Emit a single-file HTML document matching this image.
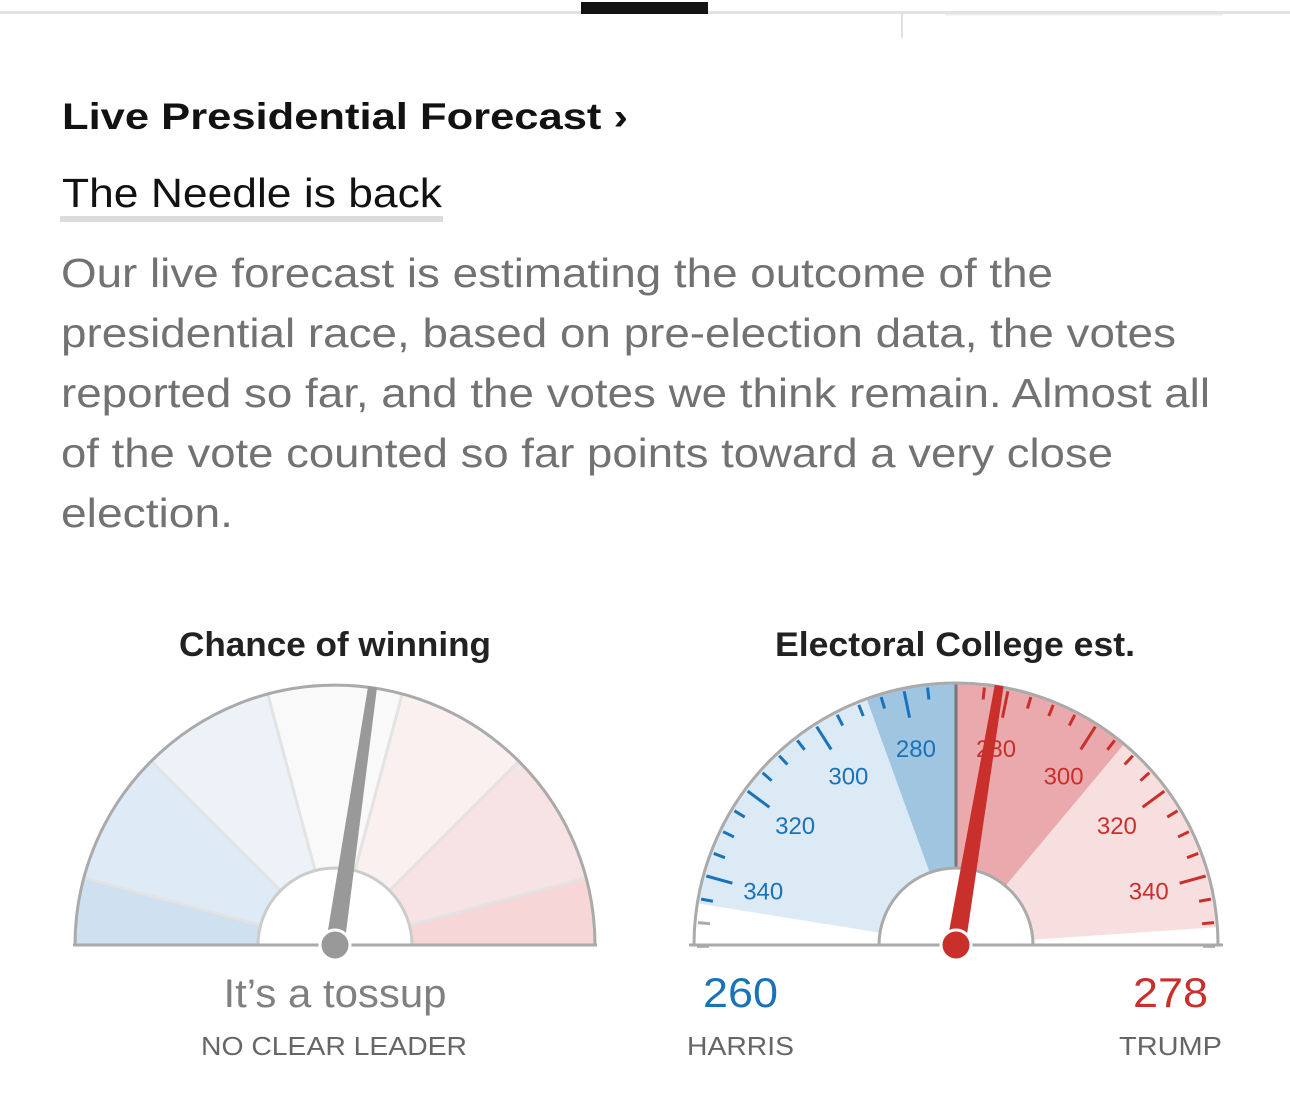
<!DOCTYPE html>
<html><head><meta charset="utf-8"><style>
html,body{margin:0;padding:0;background:#fff;width:1290px;height:1094px;overflow:hidden}
svg{display:block;font-family:"Liberation Sans",Arial,sans-serif}
</style></head><body>
<svg id="root" width="1290" height="1094" viewBox="0 0 1290 1094">
  <rect x="0" y="11" width="1290" height="3" fill="#e2e2e2"/>
  <rect x="581" y="2" width="127" height="12" fill="#121212"/>
  <rect x="901" y="14" width="2" height="24" fill="#e0e0e0"/>
  <rect x="945" y="14" width="278" height="1.5" fill="#eee"/>

  <text x="62" y="129" font-size="37" font-weight="bold" fill="#121212" textLength="566" lengthAdjust="spacingAndGlyphs">Live Presidential Forecast ›</text>
  <text x="62" y="207" font-size="41" fill="#121212" textLength="380" lengthAdjust="spacingAndGlyphs">The Needle is back</text>
  <rect x="60" y="216" width="383" height="6" fill="#dcdcdc"/>
  <g fill="#727272" font-size="41">
    <text x="61" y="287" textLength="992" lengthAdjust="spacingAndGlyphs">Our live forecast is estimating the outcome of the</text>
    <text x="61" y="347" textLength="1115" lengthAdjust="spacingAndGlyphs">presidential race, based on pre-election data, the votes</text>
    <text x="61" y="407" textLength="1149" lengthAdjust="spacingAndGlyphs">reported so far, and the votes we think remain. Almost all</text>
    <text x="61" y="467" textLength="1052" lengthAdjust="spacingAndGlyphs">of the vote counted so far points toward a very close</text>
    <text x="61" y="527" textLength="172" lengthAdjust="spacingAndGlyphs">election.</text>
  </g>

  <text x="335" y="656" font-size="34" font-weight="bold" fill="#222" text-anchor="middle" textLength="312" lengthAdjust="spacingAndGlyphs">Chance of winning</text>
  <text x="955" y="656" font-size="34" font-weight="bold" fill="#222" text-anchor="middle" textLength="360" lengthAdjust="spacingAndGlyphs">Electoral College est.</text>

  <g id="g1"></g>
  <g id="g2"></g>

  <text x="335" y="1007" font-size="40" fill="#808080" text-anchor="middle" textLength="223" lengthAdjust="spacingAndGlyphs">It’s a tossup</text>
  <text x="334" y="1055" font-size="26" fill="#666" text-anchor="middle" textLength="266" lengthAdjust="spacingAndGlyphs">NO CLEAR LEADER</text>
  <text id="hv" x="703" y="1007" font-size="42" fill="#1a73b8" textLength="75" lengthAdjust="spacingAndGlyphs"></text>
  <text x="687" y="1055" font-size="26" fill="#666" textLength="107" lengthAdjust="spacingAndGlyphs">HARRIS</text>
  <text id="tv" x="1208" y="1007" font-size="42" fill="#c9302c" text-anchor="end" textLength="75" lengthAdjust="spacingAndGlyphs"></text>
  <text x="1222" y="1055" font-size="26" fill="#666" text-anchor="end" textLength="103" lengthAdjust="spacingAndGlyphs">TRUMP</text>
</svg>
<script>
// ---- data ----
const chanceTrump = 0.546;
const chanceBands = [0, 15, 45, 75, 105, 135, 165, 180];
const harrisEV = 260;
const trumpEV = 278;
const harrisRange = [270, 288, 346];
const trumpRange = [270, 307, 351];
const tickValues = [275,280,285,290,295,300,305,310,315,320,325,330,335,340,345,350,355];
const labelValues = [280, 300, 320, 340];

const NS = "http://www.w3.org/2000/svg";
function mk(tag, attrs, parent){const e=document.createElementNS(NS,tag);for(const k in attrs)e.setAttribute(k,attrs[k]);parent.appendChild(e);return e;}
function pt(cx,cy,r,th){const a=th*Math.PI/180;return [cx-r*Math.cos(a), cy-r*Math.sin(a)];}
function sector(cx,cy,r0,r1,t0,t1){
  const a=pt(cx,cy,r1,t0),b=pt(cx,cy,r1,t1),c=pt(cx,cy,r0,t1),d=pt(cx,cy,r0,t0);
  const lg=(t1-t0)>180?1:0;
  return `M${a} A${r1},${r1} 0 ${lg} 1 ${b} L${c} A${r0},${r0} 0 ${lg} 0 ${d}Z`;
}
function needle(g,cx,cy,R,th,color,name){
  const a=th*Math.PI/180;
  const ux=Math.sin(a), uy=-Math.cos(a); // perpendicular unit
  const tip=pt(cx,cy,R,th), base=pt(cx,cy,8,th+180);
  const bw=8.5, tw=3.5;
  const d=`M${base[0]+ux*bw},${base[1]+uy*bw} L${tip[0]+ux*tw},${tip[1]+uy*tw} L${tip[0]-ux*tw},${tip[1]-uy*tw} L${base[0]-ux*bw},${base[1]-uy*bw}Z`;
  const n=mk('path',{d:d,fill:color,stroke:color,'stroke-width':2,'stroke-linejoin':'round'},g);
  
  
  const c=mk('circle',{cx:cx,cy:cy,r:15,fill:color,stroke:'#fff','stroke-width':3},g);
  
  
}

// ---- gauge 1 ----
(function(){
  const g=document.getElementById('g1');
  const cx=335, cy=945, R=260, r=77;
  const cols=['#cfe0f1','#deeaf5','#edf2f9','#f9f9f9','#fbf0f0','#f7e3e3','#f6d6d6'];
  for(let i=0;i<chanceBands.length-1;i++){
    const s=mk('path',{d:sector(cx,cy,r,R,chanceBands[i],chanceBands[i+1]),fill:cols[i]},g);
    
    
  }
  for(let i=1;i<chanceBands.length-1;i++){
    const a=pt(cx,cy,r,chanceBands[i]),b=pt(cx,cy,R,chanceBands[i]);
    mk('line',{x1:a[0],y1:a[1],x2:b[0],y2:b[1],stroke:'#e3e3e3','stroke-width':3},g);
  }
  mk('path',{d:`M${cx-R},${cy} A${R},${R} 0 0 1 ${cx+R},${cy}`,fill:'none',stroke:'#aaa','stroke-width':3},g);
  mk('path',{d:`M${cx-r},${cy} A${r},${r} 0 0 1 ${cx+r},${cy}`,fill:'#fff',stroke:'#ccc','stroke-width':3},g);
  mk('line',{x1:cx-R-2,y1:cy,x2:cx+R+2,y2:cy,stroke:'#aaa','stroke-width':3},g);
  needle(g,cx,cy,R,chanceTrump*180,'#999','chance-needle');
})();

// ---- gauge 2 ----
(function(){
  const g=document.getElementById('g2');
  const cx=956, cy=945, R=262, r=77, k=1.05;
  const th=(ev,side)=> side<0 ? 90-(ev-269)*k : 90+(ev-269)*k;
  const ranges=[[harrisRange,-1,['#a0c5e1','#dceaf5']],[trumpRange,1,['#eaaaad','#f7dfe0']]];
  ranges.forEach(([rg,s,cols])=>{
    for(let i=1;i>=0;i--){
      const t1=th(rg[i+1],s);
      const a=Math.min(90,t1), b=Math.max(90,t1);
      const p=mk('path',{d:sector(cx,cy,r,R,a,b),fill:cols[i]},g);
      
      
    }
  });
  mk('line',{x1:cx,y1:cy-r,x2:cx,y2:cy-R,stroke:'#777','stroke-width':3},g);
  [-1,1].forEach(s=>{
    const up = s<0?harrisRange[2]:trumpRange[2];
    const col = s<0?'#1a73b8':'#c9302c';
    tickValues.forEach(v=>{
      const t=th(v,s), long=labelValues.includes(v);
      const a=pt(cx,cy,R-3,t), b=pt(cx,cy,R-(long?30:15),t);
      const tk=mk('line',{x1:a[0],y1:a[1],x2:b[0],y2:b[1],stroke:v<=up?col:'#aaa','stroke-width':3},g);
      
      
    });
    labelValues.forEach(v=>{
      const p=pt(cx,cy,200,th(v,s));
      const tx=mk('text',{x:p[0],y:p[1]+8,'font-size':24,fill:col,'text-anchor':'middle'},g);
      tx.textContent=v;
      
      
    });
  });
  mk('path',{d:`M${cx-R},${cy} A${R},${R} 0 0 1 ${cx+R},${cy}`,fill:'none',stroke:'#aaa','stroke-width':3},g);
  mk('path',{d:`M${cx-r},${cy} A${r},${r} 0 0 1 ${cx+r},${cy}`,fill:'#fff',stroke:'#aaa','stroke-width':3},g);
  mk('line',{x1:cx-R-5,y1:cy,x2:cx+R+5,y2:cy,stroke:'#aaa','stroke-width':3},g);
  needle(g,cx,cy,R,th(trumpEV,1),'#c9302c','electoral-needle');
  document.getElementById('hv').textContent=harrisEV;
  document.getElementById('tv').textContent=trumpEV;
})();
</script>
</body></html>
